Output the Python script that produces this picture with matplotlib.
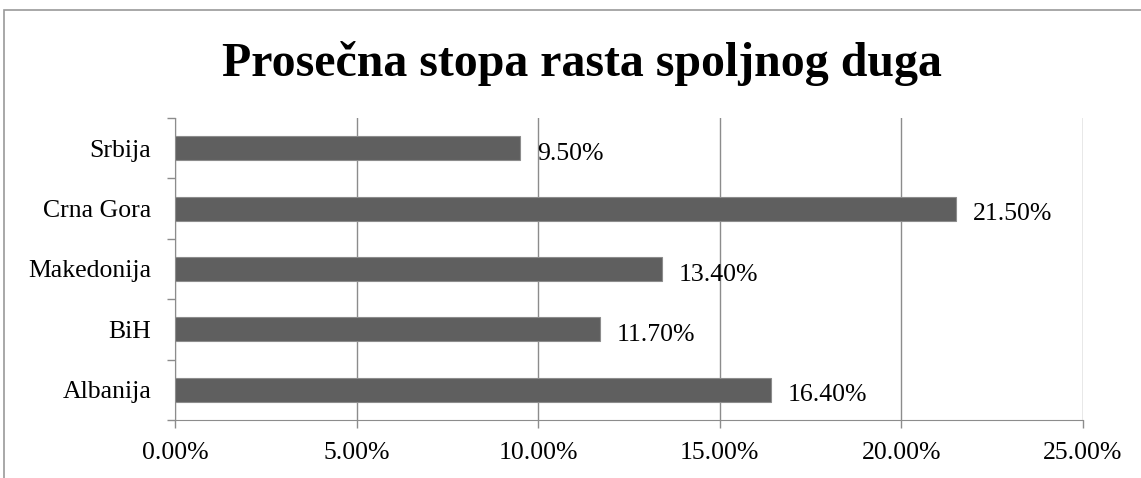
import matplotlib
matplotlib.use("Agg")
import matplotlib.pyplot as plt
from matplotlib.patches import Rectangle
from matplotlib.ticker import FuncFormatter

plt.rcParams["font.family"] = ["Liberation Serif", "DejaVu Serif"]

countries = ["Albanija", "BiH", "Makedonija", "Crna Gora", "Srbija"]
growth = [16.40, 11.70, 13.40, 21.50, 9.50]
x_ticks = [0, 5, 10, 15, 20, 25]

W, H = 1141, 478
fig = plt.figure(figsize=(W / 100, H / 100), dpi=100)
ax = fig.add_axes([175 / W, 1 - 420 / H, (1083 - 175) / W, (420 - 118) / H])

# chart area border (clipped at right and bottom like the source)
fig.patches.append(Rectangle((3.5 / W, -0.05), 1.2, 1 - 10.5 / H + 0.05,
                             transform=fig.transFigure, fill=False,
                             edgecolor="#9a9a9a", linewidth=1.2))
# tail of a text line from the page above, cut off by the crop
fig.text(549 / W, 1 + 5 / H, "g", fontsize=18, ha="center", va="baseline")

pos = range(len(countries))
ax.barh(pos, growth, height=0.4, color="#5f5f5f", edgecolor="#8c8c8c",
        linewidth=0.8, zorder=3)
for p, v in zip(pos, growth):
    ax.annotate(f"{v:.2f}%", (v, p), xytext=(12, -4),
                textcoords="offset points", fontsize=18.5, va="center",
                ha="left", zorder=4)

ax.set_xlim(0, 25)
ax.set_ylim(-0.5, len(countries) - 0.5)
ax.set_xticks(x_ticks)
ax.xaxis.set_major_formatter(FuncFormatter(lambda x, _: f"{x:.2f}%"))
ax.set_yticks(pos)
ax.set_yticklabels(countries)
ax.set_yticks([p + 0.5 for p in range(-1, len(countries))], minor=True)
ax.tick_params(axis="y", which="major", length=0, pad=17, labelsize=18.5)
ax.tick_params(axis="y", which="minor", length=6, color="#8c8c8c", width=1)
ax.tick_params(axis="x", length=6, color="#8c8c8c", width=1, pad=10,
               labelsize=18.5)
ax.grid(axis="x", color="#8c8c8c", linewidth=1, zorder=0)
for s in ["top", "right"]:
    ax.spines[s].set_visible(False)
for s in ["left", "bottom"]:
    ax.spines[s].set_color("#8c8c8c")

fig.text(582 / W, 1 - 64 / H, "Prosečna stopa rasta spoljnog duga",
         fontsize=34.5, fontweight="bold", ha="center", va="center")

fig.savefig("out.png", dpi=100)
